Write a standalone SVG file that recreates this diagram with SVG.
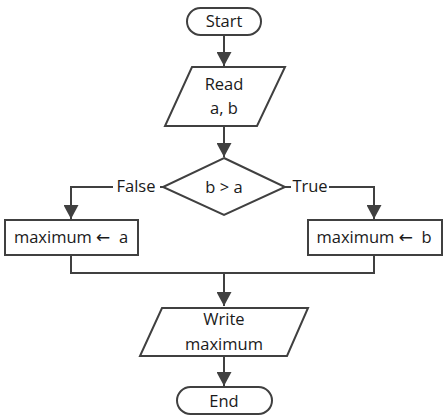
<svg xmlns="http://www.w3.org/2000/svg" width="445" height="418" viewBox="0 0 445 418">
<style>
.s{fill:#fff;stroke:#404040;stroke-width:2}
.c{fill:none;stroke:#404040;stroke-width:2}
.t{font-family:"Open Sans","Noto Sans",sans-serif;font-size:16.5px;fill:#1a1a1a;text-anchor:middle;white-space:pre}
.ar{font-family:"DejaVu Sans",sans-serif;font-size:17px}
</style>
<defs>
<marker id="ah" markerWidth="14" markerHeight="15" refX="14" refY="7.5" orient="auto" markerUnits="userSpaceOnUse">
<path d="M0,0 L14,7.5 L0,15 Z" fill="#404040"/>
</marker>
</defs>
<rect width="445" height="418" fill="#fff"/>
<g id="connectors">
<path class="c" d="M224,36 V66" marker-end="url(#ah)"/>
<path class="c" d="M224,126 V157" marker-end="url(#ah)"/>
<path class="c" d="M163,187 H160 M113,187 H71 V219" marker-end="url(#ah)"/>
<path class="c" d="M285,187 H291 M329,187 H374 V219" marker-end="url(#ah)"/>
<path class="c" d="M71,255 V273 H374 V255"/>
<path class="c" d="M224,273 V306" marker-end="url(#ah)"/>
<path class="c" d="M224,356 V386" marker-end="url(#ah)"/>
<text class="t" x="136" y="192">False</text>
<text class="t" x="310" y="192">True</text>
</g>
<g id="start">
<rect class="s" x="187" y="8" width="74" height="27" rx="13.5"/>
<text class="t" x="224" y="27">Start</text>
</g>
<g id="read">
<polygon class="s" points="192,67 285,67 257,126 165,126"/>
<text class="t" x="224" y="90">Read</text>
<text class="t" x="224" y="114">a, b</text>
</g>
<g id="decision">
<polygon class="s" points="224,158 285,187 224,215 163,187"/>
<text class="t" x="224" y="193">b &gt; a</text>
</g>
<g id="assign-a">
<rect class="s" x="5" y="220" width="133" height="35"/>
<text class="t" x="71" y="243" xml:space="preserve">maximum <tspan class="ar">←</tspan>  a</text>
</g>
<g id="assign-b">
<rect class="s" x="308" y="220" width="134" height="35"/>
<text class="t" x="374" y="243" xml:space="preserve">maximum <tspan class="ar">←</tspan>  b</text>
</g>
<g id="write">
<polygon class="s" points="162,308 308,308 287,356 140,356"/>
<text class="t" x="224" y="325">Write</text>
<text class="t" x="224" y="350">maximum</text>
</g>
<g id="end">
<rect class="s" x="177" y="387" width="95" height="27" rx="13.5"/>
<text class="t" x="224" y="407">End</text>
</g>
</svg>
